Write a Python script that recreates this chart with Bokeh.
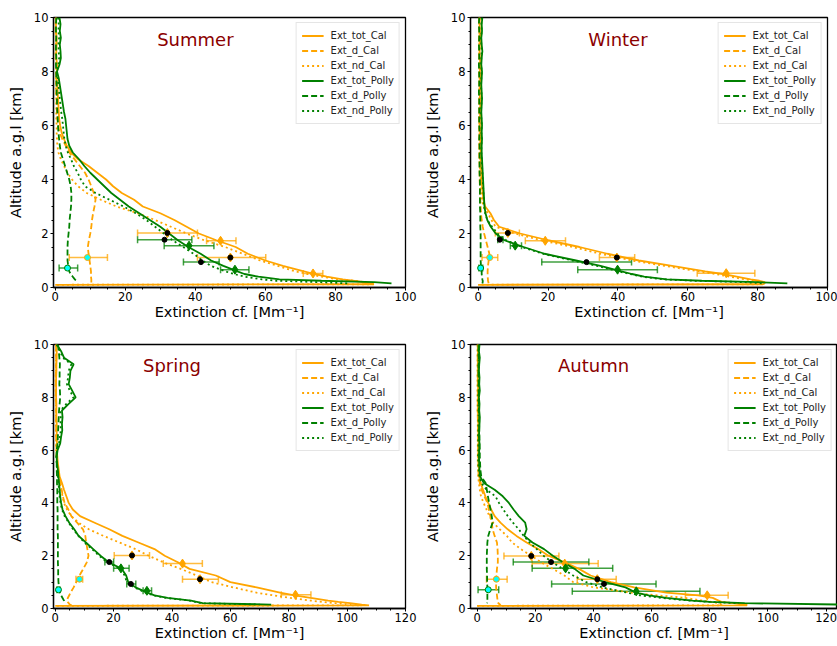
import numpy as np
from bokeh.plotting import figure
from bokeh.layouts import column, row
from bokeh.models import (ColumnDataSource, Range1d, SingleIntervalTicker, Whisker,
                          TeeHead, Legend, LegendItem)
from bokeh.core.properties import value
from bokeh.embed import file_html
from bokeh.resources import INLINE

N = float("nan")
SEASONS = ["Summer", "Winter", "Spring", "Autumn"]
X_AXIS_LABEL = "Extinction cf. [Mm\u207b\u00b9]"
Y_AXIS_LABEL = "Altitude a.g.l [km]"
X_LIMITS = {"Summer": (-0.5, 100), "Winter": (-2.2, 100), "Spring": (-0.6, 120), "Autumn": (-2.3, 123.9)}

# common altitude grid [km]
ALTITUDE_KM = [10.0, 9.75, 9.5, 9.25, 9.0, 8.75, 8.5, 8.25, 8.0, 7.75, 7.5, 7.25, 7.0, 6.75, 6.5, 6.25,
               6.0, 5.75, 5.5, 5.25, 5.0,
               4.75, 4.5, 4.25, 4.0, 3.75, 3.5, 3.25, 3.0, 2.75, 2.5, 2.25, 2.0, 1.75, 1.5, 1.25, 1.0,
               0.8, 0.6, 0.5, 0.4, 0.3, 0.25, 0.2, 0.15, 0.12, 0.1]

# ---- extinction profiles [Mm-1] ----
EXT_TOT_CAL = {
    "Summer": [0.3, 0.2, 0.2, 0.4, 0.4, 0.3, 0.3, 0.5, 0.5, 0.4, 0.6, 0.7, 0.8, 0.9, 1.0, 1.1, 1.4, 1.8, 2.5, 3.3, 4.5,
               6.5, 9.5, 12.0, 14.5, 16.5, 19.0, 22.5, 25.0, 30.0, 34.0, 37.5, 41.0, 46.0, 51.5, 55.0, 60.0,
               65.0, 71.0, 74.0, 77.5, 82.0, 85.0, 88.0, 90.0, 91.0, 0.0],
    "Winter": [0.5, 0.4, 0.5, 0.6, 0.5, 0.4, 0.5, 0.6, 0.5, 0.6, 0.6, 0.5, 0.5, 0.6, 0.6, 0.5, 0.5, 0.6, 0.6, 0.7, 0.7,
               0.7, 0.8, 0.9, 1.0, 1.1, 1.3, 1.5, 2.0, 3.5, 4.5, 6.0, 12.0, 20.0, 29.0, 37.0, 46.0,
               55.5, 65.0, 70.0, 74.0, 78.0, 80.5, 82.0, 82.0, 81.5, 0.0],
    "Spring": [0.4, 0.5, 0.5, 0.4, 0.4, 0.3, 0.3, 0.3, 0.3, 0.4, 0.4, 0.4, 0.5, 0.5, 0.5, 0.6, 0.6, 0.7, 0.9, 1.2, 1.5,
               2.3, 3.0, 3.8, 4.6, 6.0, 8.5, 13.5, 18.5, 23.0, 28.5, 34.0, 37.5, 42.0, 46.0, 55.0, 60.0,
               69.0, 77.0, 82.0, 87.5, 93.5, 97.0, 101.0, 105.0, 107.5, 0.0],
    "Autumn": [0.3, 0.3, 0.2, 0.3, 0.3, 0.2, 0.3, 0.3, 0.3, 0.3, 0.3, 0.4, 0.4, 0.4, 0.4, 0.5, 0.5, 0.5, 0.6, 0.6, 0.7,
               1.2, 2.0, 2.8, 3.8, 4.8, 6.0, 8.0, 10.5, 13.5, 17.0, 21.0, 24.5, 30.0, 35.0, 39.0, 46.0,
               54.0, 65.0, 76.0, 81.0, 83.0, 84.0, 88.0, 92.5, 92.8, 0.0],
}
EXT_D_CAL = {
    "Summer": [0.2, 0.1, 0.1, 0.2, 0.2, 0.1, 0.2, 0.3, 0.3, 0.2, 0.3, 0.3, 0.4, 0.4, 0.5, 0.6, 0.8, 1.2, 2.0, 3.0, 4.0,
               5.5, 7.0, 8.5, 9.5, 10.3, 11.0, 11.5, 11.2, 10.8, 10.5, 10.3, 10.0, 9.6, 9.3, 9.5, 9.8,
               10.0, 10.2, 10.2, 10.2, 10.3, 10.3, 10.3, 10.3, 10.3, 10.3],
    "Winter": [0.3, 0.2, 0.3, 0.2, 0.3, 0.2, 0.3, 0.3, 0.2, 0.3, 0.3, 0.2, 0.3, 0.3, 0.3, 0.2, 0.3, 0.3, 0.3, 0.3, 0.3,
               0.3, 0.4, 0.4, 0.4, 0.5, 0.5, 0.6, 0.7, 0.8, 1.0, 1.3, 1.7, 2.2, 2.7, 3.2, 3.0,
               2.8, 2.7, 2.7, 2.7, 2.8, 2.8, 2.9, 3.0, 3.0, 3.0],
    "Spring": [0.3, 0.3, 0.3, 0.3, 0.2, 0.2, 0.2, 0.2, 0.2, 0.3, 0.3, 0.3, 0.3, 0.3, 0.3, 0.4, 0.4, 0.5, 0.7, 1.0, 1.3,
               1.8, 2.2, 2.6, 3.2, 4.5, 5.5, 7.5, 9.5, 10.3, 10.6, 11.0, 11.4, 10.8, 9.6, 8.3, 7.2,
               6.3, 5.2, 4.8, 4.3, 4.1, 4.2, 4.6, 5.0, 5.5, 5.5],
    "Autumn": [0.2, 0.2, 0.2, 0.2, 0.2, 0.2, 0.2, 0.2, 0.2, 0.2, 0.2, 0.2, 0.3, 0.3, 0.3, 0.3, 0.3, 0.3, 0.4, 0.4, 0.5,
               0.9, 1.5, 2.5, 3.5, 4.0, 4.5, 5.0, 5.3, 6.0, 6.8, 7.0, 7.1, 7.1, 6.8, 6.6, 6.5,
               6.5, 6.7, 6.8, 6.9, 7.0, 7.0, 7.3, 7.8, 8.0, 8.0],
}
EXT_ND_CAL = {
    "Summer": [0.1, 0.1, 0.1, 0.2, 0.2, 0.1, 0.1, 0.2, 0.2, 0.2, 0.2, 0.2, 0.3, 0.3, 0.3, 0.3, 0.4, 0.4, 0.5, 0.6, 0.9,
               1.6, 2.5, 3.5, 4.8, 6.5, 9.0, 13.0, 17.5, 23.5, 28.5, 33.0, 37.5, 42.5, 48.5, 53.5, 58.5,
               63.5, 68.5, 72.0, 76.0, 81.0, 85.5, 88.5, 90.0, 90.5, 0.0],
    "Winter": [0.3, 0.3, 0.3, 0.4, 0.3, 0.3, 0.3, 0.4, 0.3, 0.4, 0.4, 0.3, 0.3, 0.4, 0.4, 0.3, 0.3, 0.4, 0.4, 0.4, 0.5,
               0.5, 0.5, 0.6, 0.7, 0.8, 0.9, 1.1, 1.5, 2.8, 3.8, 5.0, 10.5, 18.0, 27.0, 35.0, 44.0,
               53.5, 63.0, 68.0, 72.0, 76.5, 79.0, 80.5, 80.5, 80.0, 0.0],
    "Spring": [0.2, 0.2, 0.2, 0.2, 0.2, 0.1, 0.1, 0.1, 0.1, 0.2, 0.2, 0.2, 0.2, 0.2, 0.3, 0.3, 0.3, 0.4, 0.6, 0.8, 1.0,
               1.5, 2.0, 2.5, 3.0, 4.0, 5.5, 8.0, 11.5, 16.5, 22.0, 27.5, 32.0, 37.0, 43.0, 48.5, 53.5,
               61.0, 69.0, 74.5, 80.5, 87.5, 91.5, 96.0, 101.0, 105.0, 0.0],
    "Autumn": [0.1, 0.1, 0.1, 0.1, 0.1, 0.1, 0.1, 0.1, 0.1, 0.1, 0.1, 0.2, 0.2, 0.2, 0.2, 0.2, 0.2, 0.2, 0.2, 0.3, 0.3,
               0.6, 0.9, 1.3, 2.2, 3.2, 4.2, 5.5, 7.8, 10.2, 12.0, 15.0, 18.5, 22.0, 26.0, 30.0, 33.0,
               40.0, 53.0, 62.0, 71.5, 77.5, 80.5, 83.0, 84.0, 84.0, 0.0],
}
EXT_TOT_POLLY = {
    "Summer": [1.2, 1.5, 1.3, 1.6, 1.3, 1.5, 1.6, 1.2, 0.5, 1.0, 1.3, 1.6, 1.9, 2.2, 2.5, 2.9, 3.1, 3.3, 3.5, 4.0, 5.0,
               6.8, 8.3, 10.0, 12.0, 14.0, 16.0, 18.5, 21.0, 24.0, 27.0, 30.0, 32.5, 35.0, 38.0, 41.5, 44.5,
               48.0, 52.0, 54.0, 58.0, 64.0, 76.0, 91.0, 96.0, N, N],
    "Winter": [1.2, 1.0, 1.1, 0.9, 1.0, 1.2, 1.0, 0.9, 1.1, 1.0, 0.9, 1.0, 1.1, 1.0, 0.9, 1.0, 1.1, 1.0, 1.1, 1.0, 1.0,
               1.1, 1.2, 1.3, 1.4, 1.5, 1.6, 1.7, 1.8, 2.1, 2.6, 3.6, 5.0, 7.5, 13.0, 19.0, 28.0,
               35.0, 41.0, 44.0, 47.5, 54.0, 64.0, 80.0, 88.5, N, N],
    "Spring": [0.6, 2.0, 3.0, 6.3, 5.2, 5.0, 4.6, 5.8, 7.0, 4.6, 2.3, 2.5, 2.3, 2.4, 2.0, 1.7, 0.8, 0.5, 0.6, 0.9, 1.1,
               1.3, 1.5, 1.7, 2.0, 2.5, 3.5, 4.8, 6.5, 8.0, 10.5, 13.0, 15.5, 18.3, 22.8, 24.3, 25.0,
               27.5, 31.5, 34.0, 38.5, 46.5, 48.5, 50.5, 74.0, N, N],
    "Autumn": [0.8, 0.6, 0.9, 0.7, 0.6, 0.8, 0.7, 0.9, 0.6, 0.8, 0.7, 0.9, 0.8, 0.7, 0.6, 0.8, 0.7, 0.6, 0.7, 0.8, 1.0,
               2.3, 6.0, 8.8, 10.9, 12.5, 14.3, 16.5, 17.0, 16.2, 19.0, 23.0, 26.0, 29.5, 33.5, 36.5, 44.0,
               51.0, 54.5, 59.0, 65.0, 74.0, 80.0, 92.0, 125.0, N, N],
}
EXT_D_POLLY = {
    "Summer": [0.3, 0.2, 0.2, 0.3, 0.2, 0.2, 0.3, 0.2, 0.3, 0.3, 0.4, 0.4, 0.5, 0.5, 0.6, 0.7, 0.8, 0.9, 1.1, 1.3, 1.6,
               2.2, 2.8, 3.4, 4.0, 4.4, 4.6, 4.6, 4.5, 4.3, 4.1, 4.0, 3.8, 3.6, 3.5, 3.5, 3.5,
               3.7, 4.0, 4.4, 5.0, 5.6, 6.0, 6.3, N, N, N],
    "Winter": [0.3, 0.2, 0.3, 0.3, 0.2, 0.3, 0.3, 0.2, 0.3, 0.3, 0.3, 0.2, 0.3, 0.3, 0.3, 0.3, 0.3, 0.4, 0.3, 0.4, 0.4,
               0.4, 0.4, 0.4, 0.5, 0.5, 0.5, 0.5, 0.5, 0.6, 0.6, 0.6, 0.7, 0.7, 0.7, 0.7, 0.7,
               0.8, 1.0, 1.0, 1.1, 1.2, 1.3, 1.3, 1.2, N, N],
    "Spring": [0.9, 1.2, 1.4, 1.6, 1.5, 1.5, 1.4, 1.6, 1.7, 1.5, 1.3, 1.2, 1.1, 1.0, 0.9, 0.8, 0.5, 0.4, 0.5, 0.5, 0.6,
               0.6, 0.7, 0.7, 0.7, 0.8, 0.8, 0.8, 0.8, 0.9, 0.9, 0.9, 0.9, 0.9, 1.0, 1.0, 1.1,
               1.3, 1.6, 2.0, 2.5, 3.0, 3.2, 3.4, N, N, N],
    "Autumn": [0.5, 0.4, 0.5, 0.5, 0.4, 0.5, 0.5, 0.5, 0.6, 0.6, 0.6, 0.7, 0.7, 0.7, 0.8, 0.8, 0.9, 0.9, 1.0, 1.1, 1.4,
               2.9, 3.3, 3.7, 4.1, 4.6, 5.0, 5.3, 4.5, 3.8, 3.5, 3.4, 3.3, 3.3, 3.3, 3.4, 3.4,
               3.5, 3.5, 3.5, 3.5, 3.5, 3.5, 3.4, N, N, N],
}
EXT_ND_POLLY = {
    "Summer": [0.8, 1.0, 0.9, 1.1, 0.9, 1.0, 1.1, 0.9, 0.4, 0.7, 0.9, 1.1, 1.3, 1.5, 1.7, 2.0, 2.2, 2.4, 2.6, 3.0, 3.6,
               4.5, 5.3, 6.4, 7.3, 8.5, 11.5, 15.5, 19.5, 23.0, 26.0, 28.5, 31.0, 33.5, 36.5, 39.5, 42.0,
               44.5, 48.5, 51.0, 54.0, 59.0, 63.0, 75.0, 84.0, N, N],
    "Winter": [1.0, 0.9, 1.0, 0.8, 0.9, 1.0, 0.9, 0.8, 1.0, 0.9, 0.8, 0.9, 1.0, 0.9, 0.8, 0.9, 1.0, 0.9, 1.0, 0.9, 0.9,
               1.0, 1.1, 1.2, 1.3, 1.4, 1.5, 1.6, 1.7, 2.0, 2.6, 4.0, 5.5, 8.0, 12.5, 18.5, 27.0,
               34.0, 40.0, 43.5, 47.0, 53.0, 62.0, 76.0, 82.0, N, N],
    "Spring": [0.5, 1.6, 2.6, 5.5, 4.6, 4.4, 4.0, 5.0, 6.3, 3.8, 1.8, 1.9, 1.8, 1.9, 1.6, 1.3, 0.6, 0.4, 0.5, 0.7, 0.9,
               1.1, 1.3, 1.5, 1.8, 2.3, 3.2, 4.6, 6.1, 8.0, 10.0, 12.6, 15.0, 17.8, 22.3, 23.8, 24.5,
               27.0, 31.0, 33.5, 38.0, 46.0, 48.0, 50.0, 70.0, N, N],
    "Autumn": [0.5, 0.4, 0.5, 0.4, 0.4, 0.5, 0.4, 0.5, 0.3, 0.4, 0.4, 0.5, 0.4, 0.4, 0.3, 0.4, 0.4, 0.3, 0.4, 0.5, 0.7,
               1.5, 3.2, 6.3, 7.5, 9.0, 10.5, 12.3, 14.3, 16.0, 18.0, 20.5, 22.8, 25.8, 29.5, 33.0, 37.5,
               43.0, 51.5, 56.0, 63.5, 73.0, 80.0, 90.0, N, N, N],
}

# ---- layer means with horizontal error bars ----
# order of points: total (upper layer), non-dust (upper), total (lower), non-dust (lower), dust
POINT_KIND = ["tot", "nd", "tot", "nd", "d"]
CAL_PT_X = {"Summer": [32.0, 47.2, 50.0, 73.6, 9.2], "Winter": [8.5, 19.2, 39.7, 71.0, 3.3],
            "Spring": [26.3, 43.6, 49.6, 82.3, 8.3], "Autumn": [18.6, 30.1, 41.3, 79.1, 6.6]}
CAL_PT_ALT = {"Summer": [2.02, 1.73, 1.11, 0.52, 1.11], "Winter": [2.02, 1.73, 1.11, 0.53, 1.11],
              "Spring": [2.01, 1.70, 1.11, 0.52, 1.11], "Autumn": [1.99, 1.70, 1.11, 0.50, 1.11]}
CAL_PT_LO = {"Summer": [23.5, 43.2, 40.6, 70.8, 4.0], "Winter": [4.9, 13.5, 34.7, 62.7, 1.1],
             "Spring": [20.2, 37.0, 43.6, 77.4, 7.1], "Autumn": [9.2, 18.9, 34.4, 71.6, 3.2]}
CAL_PT_HI = {"Summer": [40.6, 51.6, 60.1, 76.4, 14.9], "Winter": [11.8, 25.0, 44.8, 79.2, 5.6],
             "Spring": [32.3, 50.4, 55.9, 87.6, 9.4], "Autumn": [28.1, 41.6, 47.8, 86.3, 10.3]}
POLLY_PT_X = {"Summer": [31.2, 38.2, 41.6, 51.3, 3.5], "Winter": [6.2, 10.6, 31.0, 39.9, 0.7],
              "Spring": [18.5, 22.5, 25.9, 31.4, 1.1], "Autumn": [25.4, 30.4, 43.6, 54.7, 3.8]}
POLLY_PT_ALT = {"Summer": [1.77, 1.55, 0.94, 0.66, 0.72], "Winter": [1.77, 1.55, 0.94, 0.66, 0.72],
                "Spring": [1.76, 1.52, 0.93, 0.67, 0.71], "Autumn": [1.76, 1.52, 0.93, 0.65, 0.71]}
POLLY_PT_LO = {"Summer": [23.5, 31.1, 36.6, 47.2, 1.1], "Winter": [5.6, 9.2, 18.2, 28.5, 0.2],
               "Spring": [17.0, 20.0, 24.5, 30.1, 0.6], "Autumn": [12.4, 18.9, 25.6, 32.7, 0.3]}
POLLY_PT_HI = {"Summer": [39.0, 45.3, 46.8, 55.3, 6.4], "Winter": [7.1, 12.4, 43.9, 51.3, 1.3],
               "Spring": [20.0, 25.3, 27.6, 33.0, 1.6], "Autumn": [38.4, 46.6, 61.5, 76.6, 7.4]}

ORANGE = "orange"
GREEN = "green"
FONT = "DejaVu Sans"
DASH = {"solid": "solid", "dashed": "6 3", "dotted": "2 3"}

SERIES = [
    ("Ext_tot_Cal", EXT_TOT_CAL, ORANGE, "solid"),
    ("Ext_d_Cal", EXT_D_CAL, ORANGE, "dashed"),
    ("Ext_nd_Cal", EXT_ND_CAL, ORANGE, "dotted"),
    ("Ext_tot_Polly", EXT_TOT_POLLY, GREEN, "solid"),
    ("Ext_d_Polly", EXT_D_POLLY, GREEN, "dashed"),
    ("Ext_nd_Polly", EXT_ND_POLLY, GREEN, "dotted"),
]

LAYOUT = {
    "Summer": dict(width=418, height=325, min_border_left=53, min_border_right=13, min_border_top=17, min_border_bottom=38),
    "Winter": dict(width=419, height=325, min_border_left=52, min_border_right=10, min_border_top=17, min_border_bottom=38),
    "Spring": dict(width=418, height=320, min_border_left=53, min_border_right=13, min_border_top=19, min_border_bottom=37),
    "Autumn": dict(width=419, height=320, min_border_left=52, min_border_right=0, min_border_top=19, min_border_bottom=37),
}


def add_points(p, season, xs, alts, los, his, color):
    src = ColumnDataSource(dict(x=xs[season], y=alts[season], lo=los[season], hi=his[season], kind=POINT_KIND))
    w = Whisker(source=src, base="y", lower="lo", upper="hi", dimension="width",
                line_color=color, line_width=1.5, line_alpha=0.75,
                upper_head=TeeHead(size=7, line_color=color, line_width=1.5, line_alpha=0.75),
                lower_head=TeeHead(size=7, line_color=color, line_width=1.5, line_alpha=0.75))
    p.add_layout(w)
    idx_tot = [i for i, k in enumerate(POINT_KIND) if k == "tot"]
    idx_nd = [i for i, k in enumerate(POINT_KIND) if k == "nd"]
    idx_d = [i for i, k in enumerate(POINT_KIND) if k == "d"]
    sel = lambda idx: dict(x=[xs[season][i] for i in idx], y=[alts[season][i] for i in idx])
    p.scatter("x", "y", source=ColumnDataSource(sel(idx_nd)), marker="diamond", size=9,
              fill_color=color, line_color=color)
    if color == ORANGE:
        p.scatter("x", "y", source=ColumnDataSource(sel(idx_tot)), marker="diamond", size=9,
                  fill_color=color, line_color=color)
    p.scatter("x", "y", source=ColumnDataSource(sel(idx_tot)), marker="circle", size=5,
              fill_color="black", line_color="black")
    p.scatter("x", "y", source=ColumnDataSource(sel(idx_d)), marker="circle", size=6,
              fill_color="cyan", line_color=color, line_width=1)


def make_panel(season):
    p = figure(output_backend="svg", toolbar_location=None,
               x_range=Range1d(*X_LIMITS[season]), y_range=Range1d(0, 10),
               **LAYOUT[season])
    p.xgrid.visible = False
    p.ygrid.visible = False
    p.outline_line_color = "black"
    p.outline_line_width = 1.3
    p.background_fill_color = "white"
    p.border_fill_color = "white"

    p.xaxis.ticker = SingleIntervalTicker(interval=20, num_minor_ticks=4)
    p.yaxis.ticker = SingleIntervalTicker(interval=2, num_minor_ticks=4)
    for ax in (p.xaxis[0], p.yaxis[0]):
        ax.axis_line_color = "black"
        ax.axis_line_width = 1.3
        ax.major_tick_in = 0
        ax.major_tick_out = 3
        ax.minor_tick_in = 0
        ax.minor_tick_out = 2
        ax.major_tick_line_color = "black"
        ax.minor_tick_line_color = "black"
        ax.major_label_text_font = FONT
        ax.major_label_text_font_size = "11.5px"
        ax.major_label_text_color = "black"
        ax.axis_label_text_font = FONT
        ax.axis_label_text_font_size = "14.5px"
        ax.axis_label_text_font_style = "normal"
        ax.axis_label_text_color = "black"
    p.xaxis.axis_label = X_AXIS_LABEL
    p.yaxis.axis_label = Y_AXIS_LABEL
    p.xaxis.major_label_standoff = 1
    p.xaxis.axis_label_standoff = 0
    p.yaxis.major_label_standoff = 2
    p.yaxis.axis_label_standoff = 7

    items = []
    for label, data, color, style in SERIES:
        src = ColumnDataSource(dict(x=np.array(data[season], dtype=float), y=np.array(ALTITUDE_KM, dtype=float)))
        r = p.line("x", "y", source=src, line_color=color, line_width=1.8, line_dash=DASH[style])
        items.append(LegendItem(label=label, renderers=[r]))

    add_points(p, season, CAL_PT_X, CAL_PT_ALT, CAL_PT_LO, CAL_PT_HI, ORANGE)
    add_points(p, season, POLLY_PT_X, POLLY_PT_ALT, POLLY_PT_LO, POLLY_PT_HI, GREEN)

    p.text(x=[40], y=[9.2], text=[season], text_align="center", text_baseline="middle",
           text_font=value(FONT), text_font_size="18px", text_color="darkred")

    leg = Legend(items=items, location="top_right", orientation="vertical",
                 label_text_font=FONT, label_text_font_size="10px", label_text_color="#222222",
                 glyph_width=22, glyph_height=15, label_height=15, label_standoff=7,
                 spacing=0, padding=5, margin=5,
                 border_line_color="#cccccc", border_line_width=1,
                 background_fill_color="white", background_fill_alpha=0.85)
    p.add_layout(leg)
    return p


panels = {s: make_panel(s) for s in SEASONS}
layout = column(row(panels["Summer"], panels["Winter"]), row(panels["Spring"], panels["Autumn"]))

open("out.html", "w").write(file_html(layout, INLINE))
